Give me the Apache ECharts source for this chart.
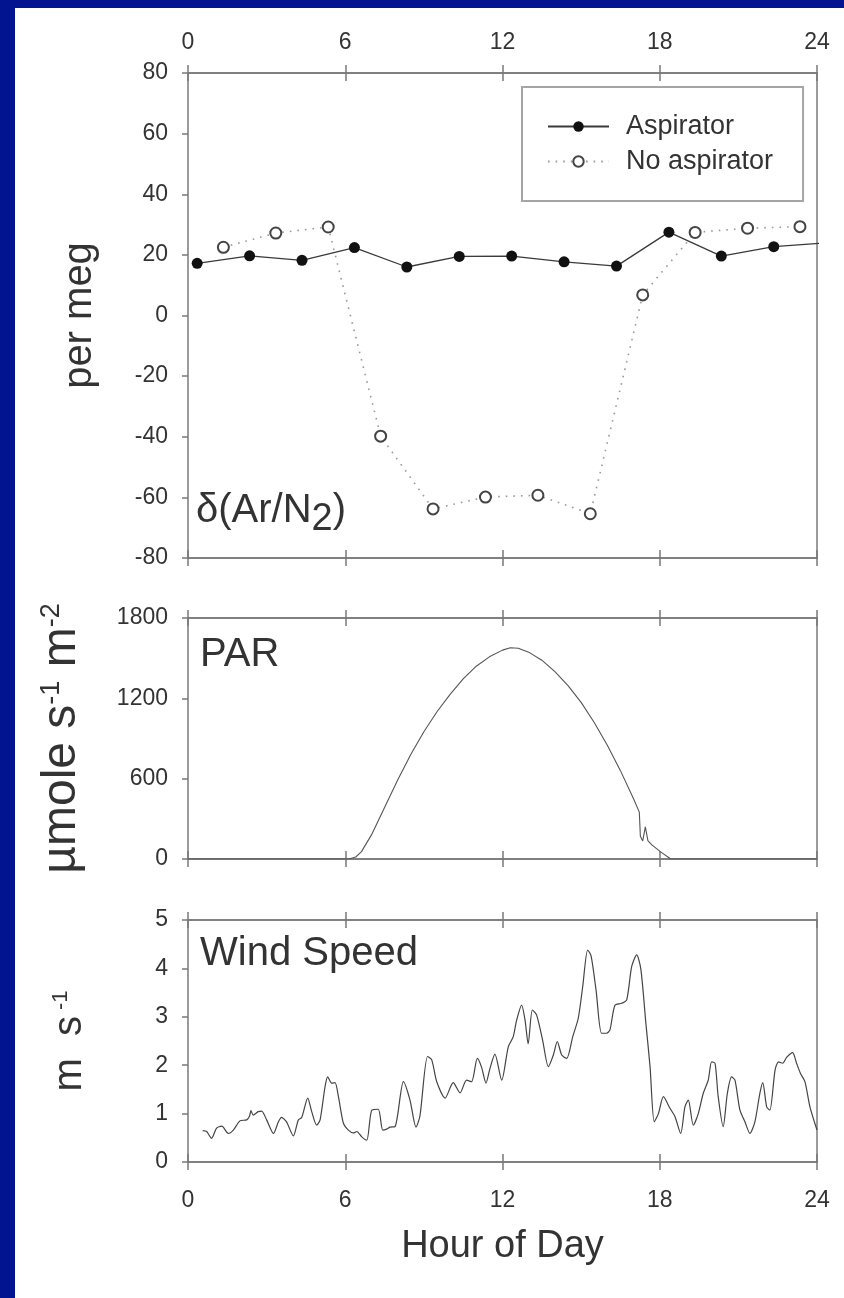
<!DOCTYPE html>
<html>
<head>
<meta charset="utf-8">
<script src="https://cdn.jsdelivr.net/npm/echarts@6/dist/echarts.min.js"></script>
<style>
  html, body { margin: 0; padding: 0; background: #02148F; }
  #sheet { position: absolute; left: 15px; top: 8px; width: 829px; height: 1290px; background: #ffffff; }
  #chart { position: absolute; left: 0; top: 0; width: 844px; height: 1298px; }
</style>
</head>
<body>
<div id="sheet"></div>
<div id="chart"></div>
<script>
// Argon/nitrogen ratio, sampled every two hours
const aspiratorHours = [0.35, 2.35, 4.35, 6.35, 8.35, 10.35, 12.35, 14.35, 16.35, 18.35, 20.35, 22.35, 24.35];
const aspiratorValues = [17.2, 19.7, 18.2, 22.4, 16.0, 19.5, 19.6, 17.7, 16.3, 27.5, 19.6, 22.7, 24.0];
const noAspiratorHours = [1.35, 3.35, 5.35, 7.35, 9.35, 11.35, 13.35, 15.35, 17.35, 19.35, 21.35, 23.35];
const noAspiratorValues = [22.5, 27.2, 29.2, -39.8, -63.8, -59.9, -59.3, -65.4, 6.8, 27.4, 28.8, 29.3];

// Photosynthetically active radiation
const parHours = [0, 6.14, 6.4, 6.62, 7.0, 7.5, 8.0, 8.5, 9.0, 9.5, 10.0, 10.5, 11.0, 11.5, 12.0, 12.3, 12.6, 13.0,
  13.5, 14.0, 14.5, 15.0, 15.5, 16.0, 16.5, 17.0, 17.22, 17.26, 17.35, 17.45, 17.55, 17.7, 18.02, 18.42, 24];
const parValues = [0, 0, 15, 55, 180, 385, 590, 780, 950, 1100, 1230, 1345, 1440, 1510, 1560, 1578, 1574, 1545,
  1485, 1400, 1295, 1170, 1020, 850, 660, 450, 350, 170, 135, 240, 135, 105, 55, 0, 0];

// Wind speed
const windHours = [0.56, 0.71, 0.90, 1.09, 1.29, 1.54, 1.73, 1.98, 2.24, 2.35, 2.40, 2.49, 2.68, 2.81, 3.00, 3.26, 3.45, 3.57,
  3.76, 4.02, 4.21, 4.34, 4.57, 4.72, 4.91, 5.04, 5.23, 5.33, 5.48, 5.61, 5.74, 5.93, 6.12, 6.31, 6.44, 6.63, 6.82,
  7.01, 7.26, 7.43, 7.58, 7.71, 7.90, 8.22, 8.47, 8.70, 8.85, 9.14, 9.30, 9.49, 9.81, 10.12, 10.38, 10.63, 10.82,
  11.04, 11.20, 11.37, 11.52, 11.71, 11.97, 12.22, 12.41, 12.54, 12.73, 12.86, 12.98, 13.14, 13.30, 13.53, 13.75,
  13.94, 14.09, 14.26, 14.45, 14.68, 14.89, 15.06, 15.25, 15.38, 15.57, 15.78, 15.97, 16.10, 16.29, 16.55, 16.74,
  16.93, 17.12, 17.28, 17.47, 17.63, 17.79, 17.95, 18.14, 18.39, 18.58, 18.80, 18.96, 19.09, 19.28, 19.47, 19.66,
  19.85, 19.98, 20.11, 20.23, 20.42, 20.58, 20.74, 20.87, 21.06, 21.25, 21.44, 21.63, 21.82, 21.93, 22.08, 22.20,
  22.40, 22.53, 22.69, 22.84, 23.07, 23.22, 23.37, 23.54, 23.73, 24.00];
const windValues = [0.65, 0.63, 0.49, 0.70, 0.74, 0.59, 0.66, 0.85, 0.87, 0.95, 1.06, 0.97, 1.04, 1.05, 0.87, 0.59, 0.83, 0.92,
  0.83, 0.54, 0.87, 0.92, 1.32, 1.04, 0.76, 0.87, 1.56, 1.76, 1.63, 1.64, 1.35, 0.80, 0.66, 0.60, 0.63, 0.52, 0.45,
  1.07, 1.09, 0.66, 0.68, 0.72, 0.73, 1.66, 1.28, 0.72, 0.95, 2.18, 2.11, 1.66, 1.32, 1.64, 1.43, 1.69, 1.66,
  2.14, 1.96, 1.63, 1.93, 2.23, 1.69, 2.38, 2.59, 2.93, 3.24, 2.93, 2.44, 3.14, 3.04, 2.52, 1.97,
  2.21, 2.49, 2.21, 2.14, 2.59, 2.97, 3.62, 4.38, 4.26, 3.55, 2.66, 2.66, 2.73, 3.24, 3.28, 3.35,
  4.04, 4.28, 3.98, 2.87, 1.97, 0.83, 1.00, 1.35, 1.11, 0.94, 0.59, 1.14, 1.28, 0.76, 1.00, 1.42,
  1.69, 2.07, 2.04, 1.35, 0.73, 1.42, 1.76, 1.69, 1.07, 0.83, 0.59, 0.83, 1.42, 1.64, 1.14, 1.07,
  1.90, 2.07, 2.04, 2.16, 2.26, 2.04, 1.83, 1.66, 1.14, 0.66];

// Axis ticks
const hourTicks = { min: 0, max: 24, interval: 6 };
const ratioTicks = { min: -80, max: 80, interval: 20 };
const parTicks = { min: 0, max: 1800, interval: 600 };
const windTicks = { min: 0, max: 5, interval: 1 };

const FONT = '"Liberation Sans", Arial, Helvetica, sans-serif';
const AXIS_COLOR = '#7a7a7a';
const TEXT_COLOR = '#333333';

const pair = (xs, ys) => xs.map((x, i) => [x, ys[i]]);

const grids = [
  { left: 188, right: 27, top: 73, height: 485 },
  { left: 188, right: 27, top: 618, height: 241 },
  { left: 188, right: 27, top: 920, height: 242 }
];

// Four x axes per panel so that every hour tick crosses the frame line
function hourAxes(gridIndex, labelTop, labelBottom) {
  const base = {
    type: 'value', gridIndex, min: hourTicks.min, max: hourTicks.max, interval: hourTicks.interval,
    splitLine: { show: false },
    axisLine: { show: true, onZero: false, lineStyle: { color: AXIS_COLOR, width: 1.5 } },
    axisLabel: { show: false }
  };
  const label = (margin) => ({
    show: true, margin, color: TEXT_COLOR, fontSize: 23, fontFamily: FONT, formatter: v => String(v)
  });
  const tick = (inside) => ({ show: true, inside, length: 8, lineStyle: { color: AXIS_COLOR, width: 1.5 } });
  const top = Object.assign({}, base, { position: 'top', axisTick: tick(false) });
  if (labelTop) top.axisLabel = label(19);
  const topIn = Object.assign({}, base, { position: 'top', axisTick: tick(true) });
  const bottom = Object.assign({}, base, { position: 'bottom', axisTick: tick(false) });
  if (labelBottom) {
    bottom.axisLabel = label(27);
    bottom.name = 'Hour of Day';
    bottom.nameLocation = 'middle';
    bottom.nameGap = 66;
    bottom.nameTextStyle = { color: TEXT_COLOR, fontSize: 38, fontFamily: FONT };
  }
  const bottomIn = Object.assign({}, base, { position: 'bottom', axisTick: tick(true) });
  return [top, topIn, bottom, bottomIn];
}

function valueAxes(gridIndex, ticks, name, nameGap, rich, nameSize) {
  const left = {
    type: 'value', gridIndex, position: 'left', min: ticks.min, max: ticks.max, interval: ticks.interval,
    splitLine: { show: false },
    axisLine: { show: true, onZero: false, lineStyle: { color: AXIS_COLOR, width: 1.5 } },
    axisTick: { show: true, length: 6, lineStyle: { color: AXIS_COLOR, width: 1.5 } },
    axisLabel: { show: true, margin: 20, color: TEXT_COLOR, fontSize: 23, fontFamily: FONT, formatter: v => String(v) },
    name, nameLocation: 'middle', nameGap, nameRotate: 90,
    nameTextStyle: { color: TEXT_COLOR, fontSize: nameSize, fontFamily: FONT, rich }
  };
  const right = {
    type: 'value', gridIndex, position: 'right', min: ticks.min, max: ticks.max, interval: ticks.interval,
    splitLine: { show: false },
    axisLine: { show: true, onZero: false, lineStyle: { color: AXIS_COLOR, width: 1.5 } },
    axisTick: { show: false }, axisLabel: { show: false }
  };
  return [left, right];
}

const unitRich = (main, sup) => ({
  n: { fontSize: main, fontFamily: FONT, color: TEXT_COLOR, verticalAlign: 'top', lineHeight: main + 6 },
  s: { fontSize: sup, fontFamily: FONT, color: TEXT_COLOR, verticalAlign: 'top', lineHeight: main + 6 }
});

const xAxis = [].concat(hourAxes(0, true, false), hourAxes(1, false, false), hourAxes(2, false, true));
const yAxis = [].concat(
  valueAxes(0, ratioTicks, 'per meg', 88, unitRich(40, 22), 40),
  valueAxes(1, parTicks, '{n|µmole s}{s|-1}{n| m}{s|-2}', 96, unitRich(48, 27), 48),
  valueAxes(2, windTicks, '{n|m  s}{s| -1}', 92, unitRich(40, 22), 40)
);

const panelTitle = (text, left, top, rich) => ({
  text, left, top, padding: 0,
  textStyle: { color: TEXT_COLOR, fontSize: 40, fontWeight: 'normal', fontFamily: FONT, rich }
});

const option = {
  animation: false,
  backgroundColor: 'transparent',
  grid: grids,
  title: [
    panelTitle('{a|δ(Ar/N}{b|2}{a|)}', 196, 491, {
      a: { fontSize: 40, fontFamily: FONT, color: TEXT_COLOR, verticalAlign: 'top', lineHeight: 44 },
      b: { fontSize: 38, fontFamily: FONT, color: TEXT_COLOR, verticalAlign: 'top', lineHeight: 44, padding: [10, 0, 0, 0] }
    }),
    panelTitle('PAR', 200, 635),
    panelTitle('Wind Speed', 200, 934)
  ],
  legend: {
    left: 522, top: 87, orient: 'vertical',
    padding: [26, 30, 26, 25], itemGap: 8, itemWidth: 61, itemHeight: 13,
    borderColor: '#a5a5a5', borderWidth: 2,
    textStyle: { color: TEXT_COLOR, fontSize: 27, fontFamily: FONT, padding: [0, 0, 0, 12] },
    data: ['Aspirator', 'No aspirator']
  },
  xAxis, yAxis,
  series: [
    {
      name: 'Aspirator', type: 'line', xAxisIndex: 0, yAxisIndex: 0,
      data: pair(aspiratorHours, aspiratorValues),
      symbol: 'circle', symbolSize: 11,
      itemStyle: { color: '#111111' },
      lineStyle: { color: '#3a3a3a', width: 1.3 }
    },
    {
      name: 'No aspirator', type: 'line', xAxisIndex: 0, yAxisIndex: 0,
      data: pair(noAspiratorHours, noAspiratorValues),
      symbol: 'emptyCircle', symbolSize: 11,
      itemStyle: { color: '#444444', borderWidth: 1.3 },
      lineStyle: { color: '#9a9a9a', width: 1.6, type: [1.6, 6] }
    },
    {
      name: 'PAR', type: 'line', xAxisIndex: 4, yAxisIndex: 2,
      data: pair(parHours, parValues), showSymbol: false, symbol: 'none',
      lineStyle: { color: '#555555', width: 1.1 }
    },
    {
      name: 'Wind Speed', type: 'line', xAxisIndex: 8, yAxisIndex: 4,
      data: pair(windHours, windValues), showSymbol: false, symbol: 'none', smooth: 0.25,
      lineStyle: { color: '#444444', width: 1.2 }
    }
  ]
};

const chart = echarts.init(document.getElementById('chart'), null, { renderer: 'canvas' });
chart.setOption(option);
</script>
</body>
</html>
